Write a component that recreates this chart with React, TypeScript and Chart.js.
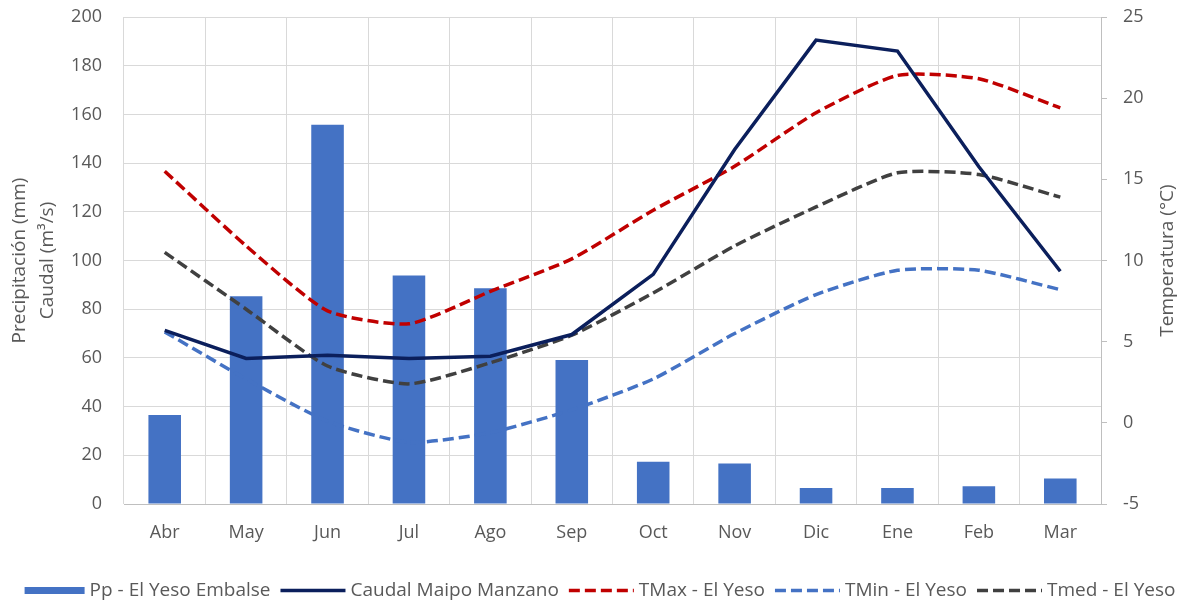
import React, { useEffect, useRef } from 'react';
import { Chart, registerables } from 'chart.js';

Chart.register(...registerables);

// Months of the hydrological year (April to March)
const months = ['Abr', 'May', 'Jun', 'Jul', 'Ago', 'Sep', 'Oct', 'Nov', 'Dic', 'Ene', 'Feb', 'Mar'];

// Monthly precipitation (mm) at El Yeso Embalse
const precipitation = [36.5, 85.3, 155.8, 93.8, 88.6, 59.1, 17.4, 16.6, 6.6, 6.6, 7.3, 10.5];

// Mean monthly streamflow (m³/s), Maipo en El Manzano
const streamflow = [71.3, 59.8, 61.1, 59.8, 60.7, 69.6, 94.3, 145.6, 190.5, 186.0, 138.5, 95.6];

// Temperatures (°C) at El Yeso
const tempMax = [15.5, 10.9, 6.9, 6.1, 8.1, 10.1, 13.1, 15.8, 19.1, 21.4, 21.2, 19.4];
const tempMin = [5.6, 2.7, 0.1, -1.2, -0.6, 0.8, 2.7, 5.5, 7.9, 9.4, 9.4, 8.2];
const tempMean = [10.5, 7.0, 3.5, 2.4, 3.7, 5.4, 8.0, 10.9, 13.3, 15.4, 15.3, 13.9];

// Axis ranges
const leftAxis = { min: 0, max: 200, step: 20 };
const rightAxis = { min: -5, max: 25, step: 5 };

const FONT = '"Open Sans", sans-serif';
const TEXT_COLOR = '#595959';
const GRID_COLOR = '#d9d9d9';
const AXIS_COLOR = '#bfbfbf';

const BAR_BLUE = '#4472C4';
const NAVY = '#0b1f5c';
const RED = '#C00000';
const DARK_GREY = '#404040';

// Axis titles (rotated) and the bottom legend
const overlayPlugin = {
  id: 'overlay',
  afterDraw(chart: any) {
    const { ctx, chartArea } = chart;
    const midY = (chartArea.top + chartArea.bottom) / 2;
    ctx.save();
    ctx.fillStyle = TEXT_COLOR;
    ctx.font = `19px ${FONT}`;
    ctx.textAlign = 'center';
    ctx.textBaseline = 'alphabetic';
    const vertical = (t: string, x: number) => {
      ctx.save();
      ctx.translate(x, midY);
      ctx.rotate(-Math.PI / 2);
      ctx.fillText(t, 0, 0);
      ctx.restore();
    };
    vertical('Precipitación (mm)', 25);
    vertical('Caudal (m³/s)', 53);
    vertical('Temperatura (°C)', 1173);

    // legend
    ctx.font = `19px ${FONT}`;
    ctx.textAlign = 'left';
    const datasets = chart.data.datasets;
    const sampleGap = 5;
    const itemGap = 10;
    const items = datasets.map((ds: any) => ({
      ds,
      sw: ds.type === 'bar' ? 60 : 65,
      tw: ctx.measureText(ds.label).width,
    }));
    const total =
      items.reduce((s: number, it: any) => s + it.sw + sampleGap + it.tw, 0) +
      itemGap * (items.length - 1);
    let x = 600 - total / 2;
    const baseY = 596;
    const lineY = 590.5;
    for (const it of items) {
      const ds = it.ds;
      if (ds.type === 'bar') {
        ctx.fillStyle = ds.backgroundColor;
        ctx.fillRect(x, 587, it.sw, 7);
      } else {
        ctx.save();
        ctx.strokeStyle = ds.borderColor;
        ctx.lineWidth = ds.borderWidth;
        ctx.setLineDash(ds.borderDash || []);
        ctx.beginPath();
        ctx.moveTo(x, lineY);
        ctx.lineTo(x + it.sw, lineY);
        ctx.stroke();
        ctx.restore();
      }
      x += it.sw + sampleGap;
      ctx.fillStyle = TEXT_COLOR;
      ctx.fillText(ds.label, x, baseY);
      x += it.tw + itemGap;
    }
    ctx.restore();
  },
};

// Fix a vertical scale's width and drop its label overhang from the layout
const fixVertical = (width: number) => (s: any) => {
  s.width = width;
  s.paddingTop = 0;
  s.paddingBottom = 0;
};

export default function App() {
  const canvasRef = useRef<HTMLCanvasElement | null>(null);

  useEffect(() => {
    const canvas = canvasRef.current;
    if (!canvas) return;
    const tickFont = { family: FONT, size: 18 };

    const chart = new Chart(canvas, {
      type: 'bar',
      data: {
        labels: months,
        datasets: [
          {
            type: 'bar',
            label: 'Pp - El Yeso Embalse',
            data: precipitation,
            backgroundColor: BAR_BLUE,
            yAxisID: 'y',
            barPercentage: 0.4,
            categoryPercentage: 1.0,
            order: 10,
          },
          {
            type: 'line',
            label: 'Caudal Maipo Manzano',
            data: streamflow,
            borderColor: NAVY,
            backgroundColor: NAVY,
            borderWidth: 3.5,
            pointRadius: 0,
            tension: 0,
            yAxisID: 'y',
            order: 0,
          },
          {
            type: 'line',
            label: 'TMax - El Yeso',
            data: tempMax,
            borderColor: RED,
            backgroundColor: RED,
            borderWidth: 3.5,
            borderDash: [11, 5],
            pointRadius: 0,
            tension: 0.2,
            yAxisID: 'y1',
            order: 1,
          },
          {
            type: 'line',
            label: 'TMin - El Yeso',
            data: tempMin,
            borderColor: BAR_BLUE,
            backgroundColor: BAR_BLUE,
            borderWidth: 3.5,
            borderDash: [11, 5],
            pointRadius: 0,
            tension: 0.2,
            yAxisID: 'y1',
            order: 3,
          },
          {
            type: 'line',
            label: 'Tmed - El Yeso',
            data: tempMean,
            borderColor: DARK_GREY,
            backgroundColor: DARK_GREY,
            borderWidth: 3.5,
            borderDash: [11, 5],
            pointRadius: 0,
            tension: 0.2,
            yAxisID: 'y1',
            order: 2,
          },
        ],
      },
      options: {
        responsive: false,
        animation: false,
        layout: { padding: { top: 17, left: 0, right: 0, bottom: 0 } },
        plugins: {
          legend: { display: false },
          tooltip: { enabled: false },
        },
        scales: {
          x: {
            grid: { color: GRID_COLOR, offset: true, drawTicks: false },
            border: { display: true, color: AXIS_COLOR },
            ticks: { font: tickFont, color: TEXT_COLOR, padding: 18, maxRotation: 0 },
            afterFit: (s: any) => {
              s.height = 100;
            },
          },
          y: {
            position: 'left',
            min: leftAxis.min,
            max: leftAxis.max,
            grid: { color: GRID_COLOR, drawTicks: false },
            border: { display: false },
            ticks: { stepSize: leftAxis.step, font: tickFont, color: TEXT_COLOR, padding: 22 },
            afterFit: fixVertical(124),
          },
          y1: {
            position: 'right',
            min: rightAxis.min,
            max: rightAxis.max,
            grid: { drawOnChartArea: false, drawTicks: true, tickLength: 6, color: AXIS_COLOR },
            border: { display: true, color: AXIS_COLOR },
            ticks: { stepSize: rightAxis.step, font: tickFont, color: TEXT_COLOR, padding: 16 },
            afterFit: fixVertical(83),
          },
        },
      },
      plugins: [overlayPlugin],
    } as any);

    return () => chart.destroy();
  }, []);

  return (
    <div style={{ position: 'fixed', left: 0, top: 0, width: 1184, height: 604, background: '#fff' }}>
      <canvas ref={canvasRef} width={1184} height={604} style={{ width: 1184, height: 604 }} />
    </div>
  );
}
